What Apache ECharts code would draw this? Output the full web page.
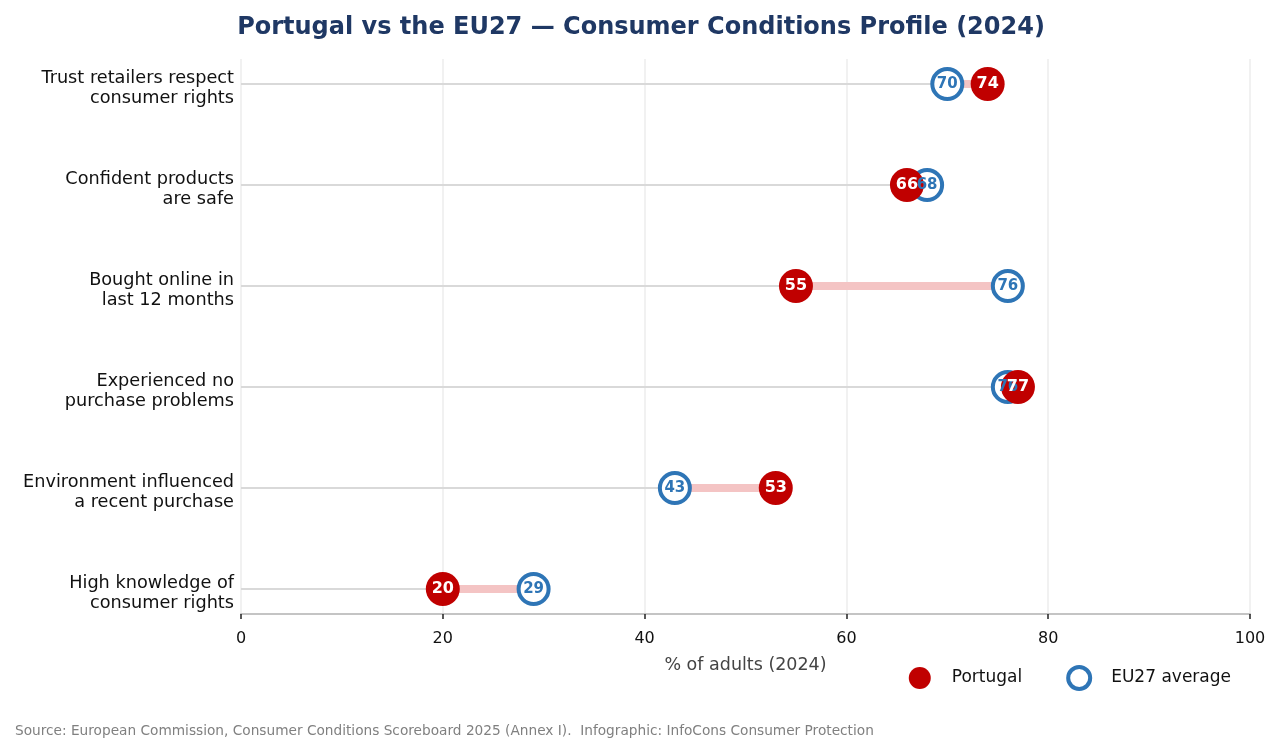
<!DOCTYPE html>
<html>
<head>
<meta charset="utf-8">
<script src="https://cdn.jsdelivr.net/npm/echarts@6/dist/echarts.min.js"></script>
<style>
  html, body { margin: 0; padding: 0; background: #fff; }
  #chart { width: 1282px; height: 753px; }
</style>
</head>
<body>
<div id="chart"></div>
<script>
var categories = [
    'Trust retailers respect\nconsumer rights',
    'Confident products\nare safe',
    'Bought online in\nlast 12 months',
    'Experienced no\npurchase problems',
    'Environment influenced\na recent purchase',
    'High knowledge of\nconsumer rights'
];
var portugal = [74, 66, 55, 77, 53, 20];
var eu27 = [70, 68, 76, 76, 43, 29];
var xTicks = [0, 20, 40, 60, 80, 100];

var RED = '#c00000', BLUE = '#2e75b6', FONT = 'DejaVu Sans';

var myChart = echarts.init(document.getElementById('chart'));

// one row per category: [index, portugal, eu27]
var rows = [];
for (var i = 0; i < categories.length; i++) {
    rows.push([i, portugal[i], eu27[i]]);
}

function renderRow(params, api) {
    var idx = api.value(0), pt = api.value(1), eu = api.value(2);
    var lo = Math.min(pt, eu);
    var p0 = api.coord([0, idx]);
    var pLo = api.coord([lo, idx]);
    var pA = api.coord([pt, idx]);
    var pB = api.coord([eu, idx]);
    return {
        type: 'group',
        children: [
            {type: 'line', shape: {x1: p0[0], y1: p0[1], x2: pLo[0], y2: pLo[1]},
                style: {stroke: '#d9d9d9', lineWidth: 2}},
            {type: 'line', shape: {x1: pA[0], y1: pA[1], x2: pB[0], y2: pB[1]},
                style: {stroke: '#f4c4c4', lineWidth: 8}}
        ]
    };
}

// two-line labels, nudged a little below the row line
function catLabel(v) {
    var parts = v.split('\n');
    return '{a|' + parts[0] + '}\n{b|' + parts[1] + '}';
}

function valueLabel(p) { return p.value[0]; }

var euPoints = eu27.map(function (v, i) { return [v, i]; });
var ptPoints = portugal.map(function (v, i) { return [v, i]; });

var option = {
    backgroundColor: '#fff',
    textStyle: {fontFamily: FONT},
    title: {
        text: 'Portugal vs the EU27 \u2014 Consumer Conditions Profile (2024)',
        left: 'center',
        top: 11,
        textStyle: {fontSize: 24, fontWeight: 'bold', color: '#1f3864', fontFamily: FONT}
    },
    graphic: [{
        type: 'text',
        left: 15,
        top: 724,
        style: {
            text: 'Source: European Commission, Consumer Conditions Scoreboard 2025 (Annex I).  Infographic: InfoCons Consumer Protection',
            fill: '#808080',
            font: '13.7px "DejaVu Sans"'
        }
    }],
    legend: {
        right: 46,
        top: 660,
        itemWidth: 22,
        itemHeight: 22,
        itemGap: 44,
        textStyle: {fontSize: 17, color: '#111', fontFamily: FONT, padding: [0, 0, 0, 16]},
        data: [
            {name: 'Portugal', icon: 'circle', itemStyle: {color: RED, borderWidth: 0}},
            {name: 'EU27 average', icon: 'circle', itemStyle: {color: '#fff', borderColor: BLUE, borderWidth: 4}}
        ]
    },
    grid: [
        {left: 241, right: 32, top: 84, bottom: 164},
        {left: 241, right: 32, top: 59, bottom: 139}
    ],
    xAxis: [
        {
            gridIndex: 0, type: 'value', min: 0, max: 100,
            show: false
        },
        {
            gridIndex: 1, type: 'value', min: 0, max: 100, interval: 20,
            name: '% of adults (2024)',
            nameLocation: 'middle',
            nameGap: 42,
            nameTextStyle: {fontSize: 17.5, color: '#444', fontFamily: FONT},
            axisLine: {show: true, lineStyle: {color: '#c4c4c4', width: 2}},
            axisTick: {show: true, length: 5, lineStyle: {color: '#222', width: 1.5}},
            axisLabel: {fontSize: 16, color: '#111', margin: 17, fontFamily: FONT},
            splitLine: {show: true, lineStyle: {color: '#ececec', width: 1.5}}
        }
    ],
    yAxis: [
        {
            gridIndex: 0, type: 'category', data: categories, inverse: true,
            boundaryGap: false,
            axisLine: {show: false},
            axisTick: {show: false},
            splitLine: {show: false},
            axisLabel: {
                formatter: catLabel,
                margin: 7, align: 'right',
                rich: {
                    a: {fontSize: 17.7, color: '#111', lineHeight: 21, padding: [10, 0, 0, 0], align: 'right', fontFamily: FONT},
                    b: {fontSize: 17.7, color: '#111', lineHeight: 21, padding: [8, 0, 0, 0], align: 'right', fontFamily: FONT}
                }
            }
        },
        {
            gridIndex: 1, type: 'value', min: 0, max: 1, show: false
        }
    ],
    series: [
        {
            type: 'custom',
            xAxisIndex: 0, yAxisIndex: 0,
            renderItem: renderRow,
            data: rows,
            silent: true,
            z: 1
        },
        {
            name: 'EU27 average',
            type: 'scatter',
            xAxisIndex: 0, yAxisIndex: 0,
            symbol: 'circle',
            symbolSize: 30,
            itemStyle: {color: '#fff', borderColor: BLUE, borderWidth: 4, opacity: 1},
            data: euPoints,
            z: 3
        },
        {
            name: 'Portugal',
            type: 'scatter',
            xAxisIndex: 0, yAxisIndex: 0,
            symbol: 'circle',
            symbolSize: 34,
            itemStyle: {color: RED, opacity: 1},
            data: ptPoints,
            z: 4
        },
        // value labels sit above every marker
        {
            type: 'scatter',
            xAxisIndex: 0, yAxisIndex: 0,
            symbolSize: 0,
            silent: true,
            itemStyle: {opacity: 1},
            label: {show: true, position: 'inside', formatter: valueLabel, opacity: 1,
                color: BLUE, fontSize: 15, fontWeight: 'bold', fontFamily: FONT},
            data: euPoints,
            z: 5
        },
        {
            type: 'scatter',
            xAxisIndex: 0, yAxisIndex: 0,
            symbolSize: 0,
            silent: true,
            itemStyle: {opacity: 1},
            label: {show: true, position: 'inside', formatter: valueLabel, opacity: 1,
                color: '#fff', fontSize: 16, fontWeight: 'bold', fontFamily: FONT},
            data: ptPoints,
            z: 6
        }
    ]
};

myChart.setOption(option);
</script>
</body>
</html>
